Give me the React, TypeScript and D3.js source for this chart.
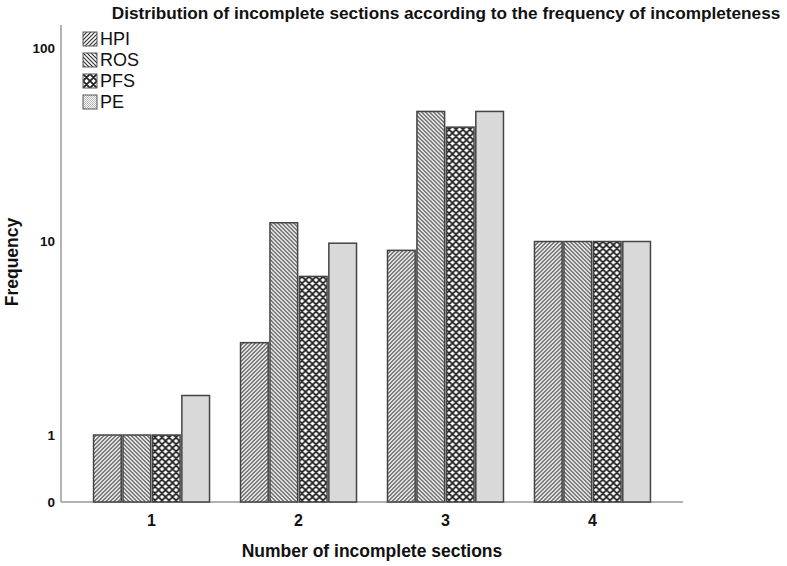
import * as React from 'react';
import * as d3 from 'd3';

const categories = ['1', '2', '3', '4'];
const seriesNames = ['HPI', 'ROS', 'PFS', 'PE'];
const hpi = [1, 3, 9, 10];
const ros = [1, 12.5, 47, 10];
const pfs = [1, 6.6, 39, 10];
const pe = [1.6, 9.8, 47, 10];
const yTicks = [0, 1, 10, 100];

const values = [hpi, ros, pfs, pe];
const patternIds = ['pat-hpi', 'pat-ros', 'pat-pfs', 'pat-pe'];
const font = '"Liberation Sans", Arial, sans-serif';

export default function App() {
  const width = 787;
  const height = 566;
  const left = 61;
  const right = 683;
  const top = 25;
  const bottom = 502;

  const x = d3.scalePoint().domain(categories).range([left, right]).padding(0.616);
  const inner = d3.scaleBand().domain(seriesNames).range([-58, 58]).paddingInner(0.06);
  const yLog = d3.scaleLog().domain([1, 100]).range([435, 48]);
  const y = (v: number) => (v <= 0 ? bottom : yLog(v));

  return (
    <svg width={width} height={height} style={{ position: 'absolute', left: 0, top: 0 }}>
      <defs>
        <pattern id="pat-hpi" patternUnits="userSpaceOnUse" width={4} height={4}>
          <rect width={4} height={4} fill="#fff" />
          <path d="M-1,1 l2,-2 M0,4 l4,-4 M3,5 l2,-2" stroke="#333" strokeWidth={1.2} />
        </pattern>
        <pattern id="pat-ros" patternUnits="userSpaceOnUse" width={4} height={4}>
          <rect width={4} height={4} fill="#fff" />
          <path d="M-1,3 l2,2 M0,0 l4,4 M3,-1 l2,2" stroke="#333" strokeWidth={1.2} />
        </pattern>
        <pattern id="pat-pfs" patternUnits="userSpaceOnUse" width={7} height={7}>
          <rect width={7} height={7} fill="#fff" />
          <path d="M0,0 l7,7 M7,0 l-7,7 M-1,6 l2,2 M6,-1 l2,2 M-1,1 l2,-2 M6,8 l2,-2" stroke="#222" strokeWidth={1.8} />
        </pattern>
        <pattern id="pat-pe" patternUnits="userSpaceOnUse" width={2} height={2}>
          <rect width={2} height={2} fill="#fff" />
          <rect width={1} height={1} fill="#b4b4b4" />
          <rect x={1} y={1} width={1} height={1} fill="#b4b4b4" />
        </pattern>
      </defs>

      <text x={446} y={19} textAnchor="middle" fontFamily={font} fontWeight="bold" fontSize={17.2} fill="#111">
        Distribution of incomplete sections according to the frequency of incompleteness
      </text>

      {/* axes */}
      <line x1={left} x2={left} y1={top} y2={bottom} stroke="#999" strokeWidth={1.5} />
      <line x1={left} x2={right} y1={bottom} y2={bottom} stroke="#999" strokeWidth={1.5} />

      {yTicks.map(t => (
        <text key={t} x={55} y={y(t)} dy="0.35em" textAnchor="end" fontFamily={font} fontWeight="bold" fontSize={13.5} fill="#111">
          {t}
        </text>
      ))}
      <text transform="translate(18,262) rotate(-90)" textAnchor="middle" fontFamily={font} fontWeight="bold" fontSize={17.5} fill="#111">
        Frequency
      </text>

      {categories.map(c => (
        <text key={c} x={x(c)} y={526} textAnchor="middle" fontFamily={font} fontWeight="bold" fontSize={16} fill="#111">
          {c}
        </text>
      ))}
      <text x={(left + right) / 2} y={557} textAnchor="middle" fontFamily={font} fontWeight="bold" fontSize={17.5} fill="#111">
        Number of incomplete sections
      </text>

      {/* bars */}
      {categories.map((c, ci) => (
        <g key={c} transform={`translate(${x(c)},0)`}>
          {seriesNames.map((s, si) => {
            const v = values[si][ci];
            return (
              <rect
                key={s}
                x={inner(s)}
                y={y(v)}
                width={inner.bandwidth()}
                height={bottom - y(v)}
                fill={`url(#${patternIds[si]})`}
                stroke="#444"
                strokeWidth={1.5}
              />
            );
          })}
        </g>
      ))}

      {/* legend */}
      {seriesNames.map((s, i) => (
        <g key={s} transform={`translate(83,${32 + i * 21})`}>
          <rect width={14} height={14} fill={`url(#${patternIds[i]})`} stroke="#555" strokeWidth={1} />
          <text x={17} y={7} dy="0.36em" fontFamily={font} fontSize={18} fill="#111">
            {s}
          </text>
        </g>
      ))}
    </svg>
  );
}
